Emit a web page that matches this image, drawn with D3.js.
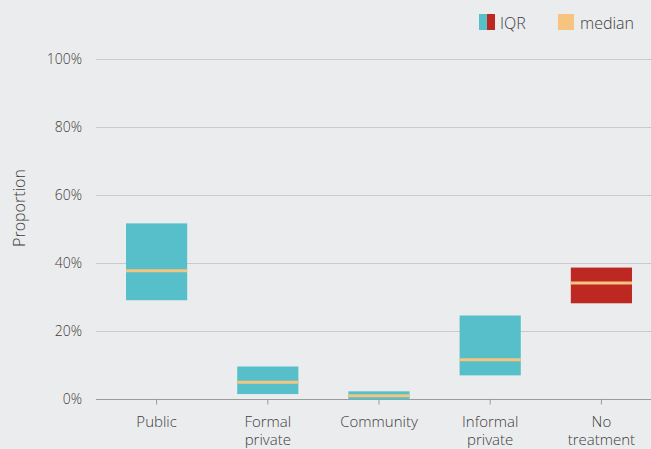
<!DOCTYPE html>
<html>
<head>
<meta charset="utf-8">
<script src="https://cdn.jsdelivr.net/npm/d3@7"></script>
<style>
  html, body { margin: 0; padding: 0; background: #ebecee; }
  svg { display: block; font-family: "Open Sans", "Noto Sans", sans-serif; font-weight: 300; }
</style>
</head>
<body>
<svg id="chart"></svg>
<script>
// categories and values (proportions in %)
const categories = ["Public", "Formal private", "Community", "Informal private", "No treatment"];
const categoryLines = [["Public"], ["Formal", "private"], ["Community"], ["Informal", "private"], ["No", "treatment"]];
const q1Values = [29.2, 1.6, 0.0, 7.1, 28.3];
const medianValues = [37.9, 5.1, 1.1, 11.7, 34.3];
const q3Values = [51.8, 9.7, 2.4, 24.7, 38.8];
const yTicks = [0, 20, 40, 60, 80, 100];

const data = categories.map((c, i) => ({
  key: c,
  lines: categoryLines[i],
  q1: q1Values[i],
  median: medianValues[i],
  q3: q3Values[i],
  noTreatment: c === "No treatment"
}));

const config = {
  containerWidth: 651,
  containerHeight: 449,
  teal: "#56bfc9",
  red: "#bd2822",
  medianColor: "#f5c47e",
  grid: "#c9cacc",
  text: "#3c3c3c"
};

const svg = d3.select("#chart")
  .attr("width", config.containerWidth)
  .attr("height", config.containerHeight);

// Initialize scales
const yScale = d3.scaleLinear().domain([0, 100]).range([399.5, 59.5]);
const xScale = d3.scaleBand()
  .domain(categories)
  .range([101, 657])
  .paddingInner(0.45)
  .paddingOuter(0.225);

// y labels
const yAxis = d3.axisLeft(yScale)
  .tickValues(yTicks)
  .tickFormat(d => d + "%")
  .tickSize(0)
  .tickPadding(14);

const yAxisG = svg.append("g")
  .attr("transform", "translate(96,0)")
  .call(yAxis)
  .attr("font-family", null)
  .attr("font-size", 14);
yAxisG.select(".domain").remove();
yAxisG.selectAll("text").attr("fill", config.text);

// gridlines
svg.append("g")
  .selectAll("line")
  .data(yTicks.filter(d => d > 0))
  .join("line")
  .attr("x1", 96)
  .attr("x2", config.containerWidth)
  .attr("y1", d => yScale(d))
  .attr("y2", d => yScale(d))
  .attr("stroke", config.grid)
  .attr("stroke-width", 1);

// x axis
const xAxis = d3.axisBottom(xScale).tickSize(5).tickFormat("").tickSizeOuter(0);
const xAxisG = svg.append("g")
  .attr("transform", `translate(0,${yScale(0)})`)
  .call(xAxis);
xAxisG.select(".domain")
  .attr("d", `M96,0H${config.containerWidth}`)
  .attr("stroke", "#9a9b9d");
xAxisG.selectAll(".tick line").attr("stroke", "#9a9b9d");

// x labels, one text per line
svg.append("g")
  .selectAll("g")
  .data(data)
  .join("g")
  .attr("transform", d => `translate(${xScale(d.key) + xScale.bandwidth() / 2},427)`)
  .selectAll("text")
  .data(d => d.lines)
  .join("text")
  .attr("y", (d, i) => i * 18)
  .attr("text-anchor", "middle")
  .attr("font-size", 15)
  .attr("fill", config.text)
  .text(d => d);

// y axis title
svg.append("text")
  .attr("transform", `translate(25,208) rotate(-90)`)
  .attr("text-anchor", "middle")
  .attr("font-size", 16)
  .attr("fill", config.text)
  .text("Proportion");

// IQR boxes
svg.append("g")
  .selectAll("rect")
  .data(data)
  .join("rect")
  .attr("x", d => xScale(d.key))
  .attr("width", xScale.bandwidth())
  .attr("y", d => yScale(d.q3))
  .attr("height", d => yScale(d.q1) - yScale(d.q3))
  .attr("fill", d => d.noTreatment ? config.red : config.teal);

// medians
svg.append("g")
  .selectAll("line")
  .data(data)
  .join("line")
  .attr("x1", d => xScale(d.key))
  .attr("x2", d => xScale(d.key) + xScale.bandwidth())
  .attr("y1", d => yScale(d.median))
  .attr("y2", d => yScale(d.median))
  .attr("stroke", config.medianColor)
  .attr("stroke-width", 3);

// legend
const legend = svg.append("g").attr("transform", "translate(479,14)");
legend.append("rect").attr("width", 8).attr("height", 16).attr("fill", config.teal);
legend.append("rect").attr("x", 8).attr("width", 8).attr("height", 16).attr("fill", config.red);
legend.append("text").attr("x", 21).attr("y", 14.5).attr("font-size", 16).attr("fill", config.text).text("IQR");
legend.append("rect").attr("x", 79).attr("width", 16).attr("height", 16).attr("fill", config.medianColor);
legend.append("text").attr("x", 101).attr("y", 14.5).attr("font-size", 16).attr("fill", config.text).text("median");
</script>
</body>
</html>
